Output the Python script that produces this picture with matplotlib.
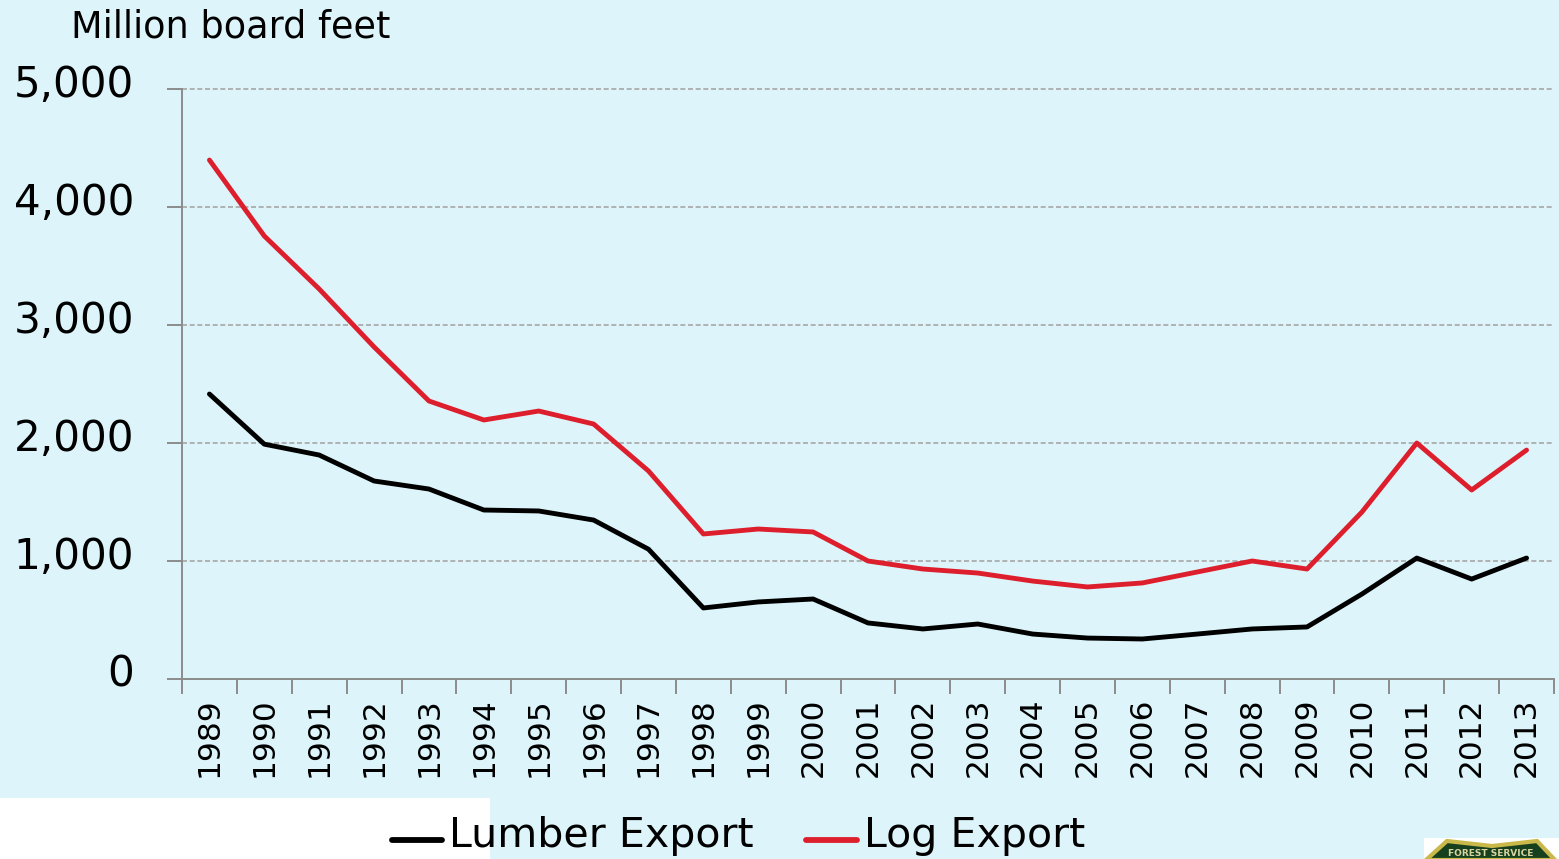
import matplotlib
matplotlib.use('Agg')
import matplotlib.pyplot as plt
from matplotlib.lines import Line2D
from matplotlib.patches import Polygon, Rectangle

W, H = 1559, 859
BG = '#DDF5FA'
GREY = '#8C8C8C'
RED = '#DD1F2D'

years = list(range(1989, 2014))
lumber = [2415, 1990, 1898, 1678, 1610, 1432, 1424, 1347, 1100, 602, 653, 678, 475,
          424, 466, 381, 347, 339, 381, 424, 441, 720, 1025, 847, 1025]
log_export = [4398, 3754, 3305, 2814, 2356, 2195, 2271, 2161, 1763, 1229, 1271, 1246, 1000,
              932, 898, 830, 780, 814, 907, 1000, 932, 1415, 2000, 1602, 1940]
yticks = [0, 1000, 2000, 3000, 4000, 5000]


def fx(px):
    return px / W


def fy(py):
    return 1 - py / H


fig = plt.figure(figsize=(W / 100, H / 100), dpi=100, facecolor=BG)
ax = fig.add_axes([fx(182), fy(679), fx(1554 - 182), (679 - 89) / H], facecolor=BG)

x = list(range(len(years)))
ax.plot(x, lumber, color='black', lw=3.5, solid_capstyle='round', solid_joinstyle='round', zorder=3)
ax.plot(x, log_export, color=RED, lw=3.5, solid_capstyle='round', solid_joinstyle='round', zorder=3)

ax.set_xlim(-0.5, len(years) - 0.5)
ax.set_ylim(0, 5000)

for s in ['top', 'right']:
    ax.spines[s].set_visible(False)
for s in ['left', 'bottom']:
    ax.spines[s].set_color(GREY)
    ax.spines[s].set_linewidth(1.4)

ax.set_yticks(yticks)
ax.set_yticklabels([])
ax.tick_params(axis='y', length=11, width=1.4, color=GREY)
# reference labels ride a little above their gridline
for v in yticks:
    ax.annotate(f'{v:,}', xy=(0, v), xycoords=('axes fraction', 'data'), xytext=(-34.5, 3),
                textcoords='offset points', ha='right', va='center',
                fontsize=30.3, color='black', annotation_clip=False)
ax.grid(axis='y', color='#A6A6A6', ls=(0, (3, 1.6)), lw=1.2, zorder=1)
for gl in ax.get_ygridlines():
    gl.set_clip_on(False)

# ticks sit between the categories, labels in the middle
ax.set_xticks([i - 0.5 for i in x] + [len(years) - 0.5])
ax.set_xticklabels([])
ax.tick_params(axis='x', length=11, width=1.4, color=GREY)
for i, yr in zip(x, years):
    ax.annotate(str(yr), xy=(i, 0), xycoords=('data', 'axes fraction'), xytext=(0, -13),
                textcoords='offset points', rotation=90, ha='center', va='top',
                fontsize=22.5, color='black', annotation_clip=False)

fig.text(fx(71), fy(27), 'Million board feet', fontsize=26.4, color='black', va='center', ha='left')

# white strip under the chart and the badge corner
fig.add_artist(Rectangle((0, 0), fx(490), fy(798), transform=fig.transFigure,
                         color='white', lw=0, zorder=0.5))
fig.add_artist(Rectangle((fx(1424), 0), fx(W - 1424), fy(838), transform=fig.transFigure,
                         color='white', lw=0, zorder=0.5))
shield = [(fx(px), fy(py)) for px, py in [(1426, 860), (1447, 841), (1492, 846), (1537, 841), (1555, 860)]]
fig.add_artist(Polygon(shield, closed=True, transform=fig.transFigure, facecolor='#17401F',
                       edgecolor='#C9B94A', lw=3, zorder=0.6))
fig.text(fx(1491), fy(853.5), 'FOREST SERVICE', fontsize=6.5, fontweight='bold', color='#D8D6A0',
         ha='center', va='center', zorder=0.7)

# legend by hand, it straddles the white strip
fig.add_artist(Line2D([fx(392), fx(442)], [fy(840), fy(840)], color='black', lw=4.2,
                      solid_capstyle='round', zorder=2))
fig.text(fx(449), fy(836), 'Lumber Export', fontsize=29.6, color='black', va='center', ha='left', zorder=2)
fig.add_artist(Line2D([fx(806), fx(857)], [fy(840), fy(840)], color=RED, lw=4.2,
                      solid_capstyle='round', zorder=2))
fig.text(fx(864), fy(836), 'Log Export', fontsize=29.6, color='black', va='center', ha='left', zorder=2)

fig.savefig('out.png', dpi=100, facecolor=BG)
